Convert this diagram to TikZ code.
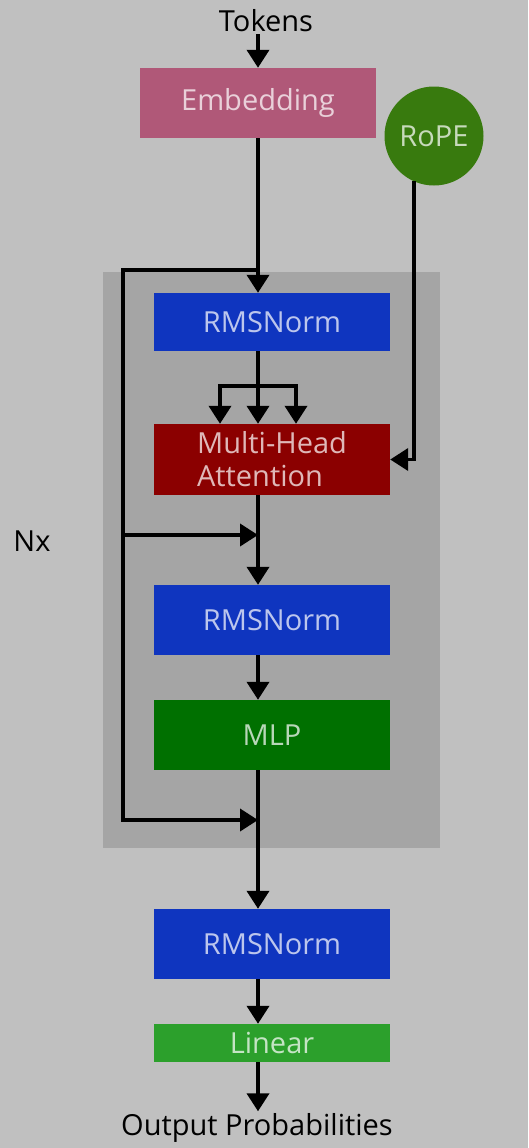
\documentclass[tikz,border=0pt]{standalone}
\usepackage{fontspec}
\setmainfont{Open Sans}
\usetikzlibrary{arrows.meta,positioning,calc,backgrounds}
\definecolor{canvas}{HTML}{C0C0C0}
\definecolor{layerbg}{HTML}{A5A5A5}
\definecolor{rose}{HTML}{B05878}
\definecolor{leaf}{HTML}{387A0E}
\definecolor{royal}{HTML}{0F35BF}
\definecolor{blood}{HTML}{8B0000}
\definecolor{forest}{HTML}{007000}
\definecolor{grass}{HTML}{2CA02C}
\newcommand{\bigfont}{\fontsize{29}{33}\selectfont}
\tikzset{
  block/.style={fill=#1,text=white!72!#1,font=\bigfont,inner sep=0pt,
    minimum width=236pt,minimum height=70pt,align=center},
  flow/.style={-{Triangle[length=18pt,width=22pt]},line width=3.8pt,draw=black},
  plain/.style={line width=3.8pt,draw=black},
  label/.style={font=\bigfont,text=black,inner sep=2pt},
}
\begin{document}
\begin{tikzpicture}[x=1pt,y=-1pt]
  \fill[canvas] (0,0) rectangle (528,1148);
  \useasboundingbox (0,0) rectangle (528,1148);
  \node[fill=layerbg,minimum width=337pt,minimum height=576pt,inner sep=0pt] (layer) at (271.5,560) {};
  \node[label] (tok) at (266,21) {Tokens};
  \node[block=rose] (emb) at (258,103) {Embedding};
  \node[circle,fill=leaf,text=white!72!leaf,font=\bigfont,minimum size=99pt,inner sep=0pt] (rope) at (434,136) {RoPE};
  \node[block=royal,minimum height=58pt] (norm1) at (272,322) {RMSNorm};
  \node[block=blood,minimum height=71pt,align=left] (mha) at (272,459.5) {Multi-Head\\Attention};
  \node[block=royal] (norm2) at (272,620) {RMSNorm};
  \node[block=forest] (mlp) at (272,735) {MLP};
  \node[block=royal] (norm3) at (272,944) {RMSNorm};
  \node[block=grass,minimum height=38pt] (lin) at (272,1043) {Linear};
  \node[label] (out) at (257,1128) {Output Probabilities};
  \node[label] (nx) at (32,541) {Nx};
  \coordinate (r0) at (123,270);
  \coordinate (br) at (258,386);
  \coordinate (j1) at (258,535);
  \coordinate (j2) at (258,820);
  % main path
  \draw[flow] (tok.south -| br) -- (emb.north);
  \draw[flow] (emb.south) -- (emb.south |- norm1.north);
  \draw[plain] (br |- norm1.south) -- (br);
  \foreach \dx in {-38,0,38}
    \draw[flow] (br) -| ([xshift=\dx pt]br |- mha.north);
  \foreach \a/\b in {mha/norm2,norm2/mlp,mlp/norm3,norm3/lin}
    \draw[flow] (br |- \a.south) -- (br |- \b.north);
  \draw[flow] (br |- lin.south) -- (br |- out.north);
  % residuals
  \draw[flow] (r0 -| emb.south) -- (r0) |- (j1);
  \draw[flow] (r0 |- j1) |- (j2);
  % rotary
  \draw[flow] (rope.246) |- (mha.east);
\end{tikzpicture}
\end{document}
